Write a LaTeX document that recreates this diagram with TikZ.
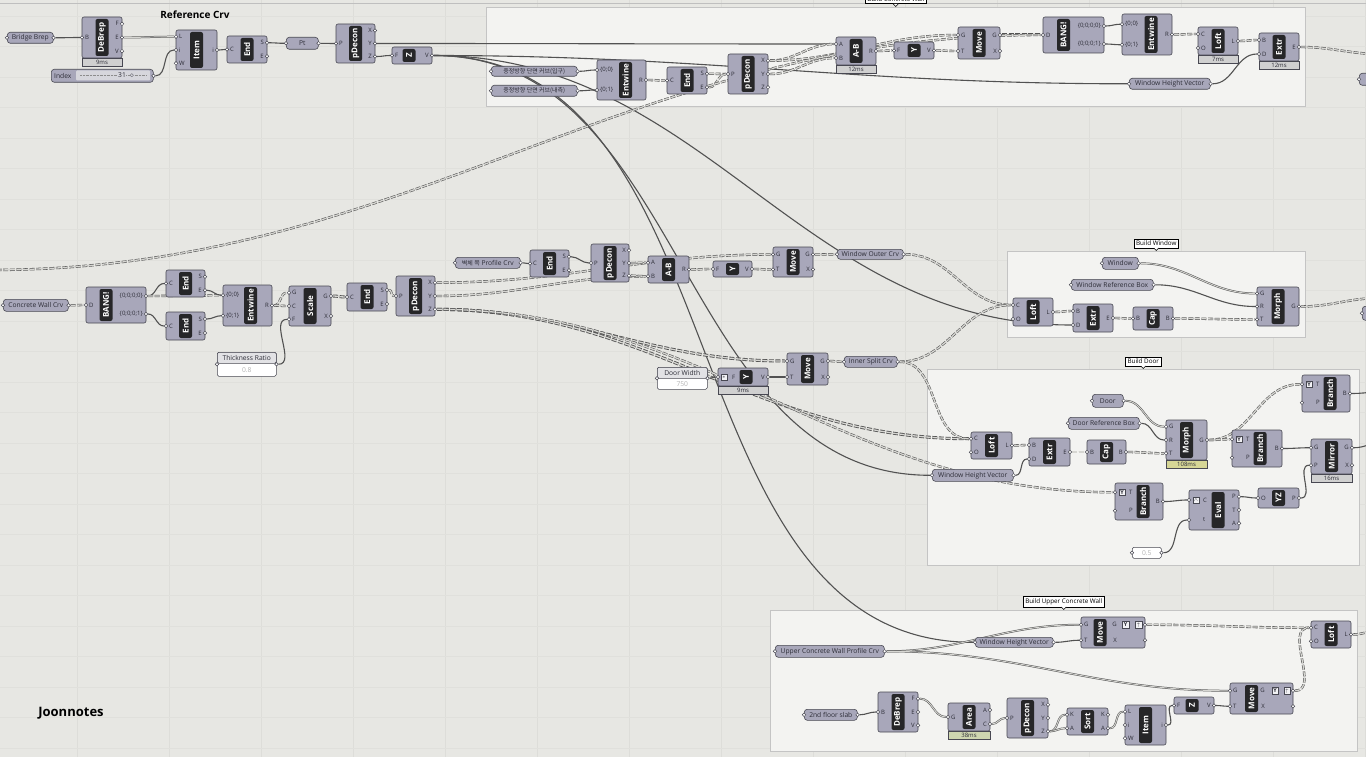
\documentclass[tikz,border=0pt]{standalone}
\usepackage{fontspec}
\setmainfont{Open Sans}
\newfontfamily\kr{Noto Sans CJK KR}
\usetikzlibrary{calc}

\definecolor{canvas}{RGB}{231,231,227}
\definecolor{gridc}{RGB}{221,221,217}
\definecolor{grpfill}{RGB}{243,243,241}
\definecolor{grpline}{RGB}{196,196,196}
\definecolor{compfill}{RGB}{168,167,186}
\definecolor{compline}{RGB}{72,72,82}
\definecolor{corefill}{RGB}{38,38,40}
\definecolor{wirec}{RGB}{82,82,82}
\definecolor{wirein}{RGB}{214,214,210}
\definecolor{timefill}{RGB}{208,208,208}
\definecolor{timeyel}{RGB}{214,214,150}
\definecolor{timegrn}{RGB}{206,214,176}
\definecolor{lblc}{RGB}{45,45,55}
\definecolor{paneltop}{RGB}{226,226,229}
\definecolor{trackc}{RGB}{214,214,220}

\pgfdeclarelayer{bg}
\pgfdeclarelayer{wires}
\pgfsetlayers{bg,wires,main}

% port padding (changed locally for icons)
\def\ghipad{3}
\def\ghopad{3}

% component: [core shift]{name}{x1}{y1}{x2}{y2}{label}{inputs}{outputs}
\newcommand\ghcomp[9][0]{%
  \pgfmathsetmacro\ghw{#5-#3}%
  \pgfmathsetmacro\ghh{#6-#4}%
  \pgfmathsetmacro\ghc{#6-#4-4}%
  \node[ghbox, minimum width=\ghw pt, minimum height=\ghh pt, anchor=north west] (#2) at (#3,#4) {};
  \node[ghcore, minimum width=\ghc pt, rotate=90] (#2-core) at ([xshift=#1pt]#2.center) {#7};
  \foreach \p [count=\k] in {#8} {\xdef\ghn{\k}}%
  \foreach \p [count=\k] in {#8} {%
    \pgfmathsetmacro\py{#4+(#6-#4)*(\k-0.5)/\ghn}%
    \node[portlbl, anchor=west] (#2-il\k) at (#3+\ghipad,\py) {\p};
    \node[port] (#2-i\k) at (#3,\py) {};
  }%
  \foreach \p [count=\k] in {#9} {\xdef\ghn{\k}}%
  \foreach \p [count=\k] in {#9} {%
    \pgfmathsetmacro\py{#4+(#6-#4)*(\k-0.5)/\ghn}%
    \node[portlbl, anchor=east] (#2-ol\k) at (#5-\ghopad,\py) {\p};
    \node[port] (#2-o\k) at (#5,\py) {};
  }%
}

% parameter: {name}{x1}{y1}{x2}{y2}{text}
\newcommand\ghpar[6]{%
  \pgfmathsetmacro\ghw{#4-#2}%
  \pgfmathsetmacro\ghh{#5-#3}%
  \node[parbox, minimum width=\ghw pt, minimum height=\ghh pt, anchor=north west] (#1) at (#2,#3) {#6};
  \node[port] (#1-i1) at (#1.west) {};
  \node[port] (#1-o1) at (#1.east) {};
}

% panel with title: {name}{x1}{y1}{x2}{y2}{title}{value}
\newcommand\ghpanel[7]{%
  \pgfmathsetmacro\ghw{#4-#2}%
  \pgfmathsetmacro\ghh{#5-#3}%
  \node[valbox, minimum width=\ghw pt, minimum height=\ghh pt, anchor=north west] (#1) at (#2,#3) {};
  \node[valbox, fill=paneltop, text=lblc, minimum width=\ghw pt, minimum height=11pt, anchor=north west] (#1-title) at (#2,#3) {#6};
  \node[inner sep=0, text=black!30] (#1-val) at ($(#1.south)!0.5!(#1-title.south)$) {#7};
  \node[port] (#1-i1) at (#1.west) {};
  \node[port] (#1-o1) at (#1.east) {};
}

% timing box under a component
\newcommand\ghtime[3][timefill]{%
  \path let \p1=(#2.south west), \p2=(#2.south east) in
    node[ghtime, fill=#1, minimum width=\x2-\x1, anchor=north] (#2-time) at (#2.south) {#3};
}

% group with label
\newcommand\ghgroup[6]{%
  \pgfmathsetmacro\ghw{#4-#2}%
  \pgfmathsetmacro\ghh{#5-#3}%
  \node[grp, minimum width=\ghw pt, minimum height=\ghh pt, anchor=north west] (#1) at (#2,#3) {};
  \node[grplbl, anchor=south] (#1-lbl) at ([yshift=3pt]#1.north) {#6};
  \fill[white] ([xshift=-2.5pt]#1-lbl.south) -- ([yshift=-2.5pt]#1-lbl.south) -- ([xshift=2.5pt]#1-lbl.south) -- cycle;
  \draw[line width=0.5pt] ([xshift=-2.5pt]#1-lbl.south) -- ([yshift=-2.5pt]#1-lbl.south) -- ([xshift=2.5pt]#1-lbl.south);
}

\begin{document}
\begin{tikzpicture}[
  x=1pt, y=-1pt,
  every node/.style={font=\fontsize{6.7}{8}\selectfont, text=lblc},
  ghbox/.style={draw=compline, fill=compfill, rounded corners=2pt, line width=0.6pt, inner sep=0, outer sep=0},
  ghcore/.style={fill=corefill, rounded corners=2pt, minimum height=13pt, inner sep=0, text=white, font=\bfseries\fontsize{8}{9}\selectfont},
  parbox/.style={draw=compline, fill=compfill, rounded corners=3pt, line width=0.6pt, inner sep=0},
  valbox/.style={draw=compline, fill=white, rounded corners=1.5pt, line width=0.5pt, inner sep=0, text=black!30},
  port/.style={circle, draw=compline, fill=white, line width=0.5pt, inner sep=0, minimum size=3.6pt},
  portlbl/.style={inner sep=0, font=\fontsize{6}{7}\selectfont, text=lblc},
  ghtime/.style={draw=compline, line width=0.5pt, inner sep=0, minimum height=8pt, font=\fontsize{6}{7}\selectfont},
  ghicon/.style={draw=compline, fill=white!85!compfill, line width=0.4pt, inner sep=0, minimum size=6.5pt, font=\bfseries\fontsize{5.5}{6}\selectfont},
  grp/.style={draw=grpline, fill=grpfill, line width=0.6pt, inner sep=0},
  grplbl/.style={draw=black, fill=white, line width=0.5pt, inner sep=2pt, font=\fontsize{6.3}{7}\selectfont, text=black},
  wire/.style={draw=wirec, line width=1.1pt, out=0, in=180},
  wlist/.style={draw=wirec, line width=0.5pt, double=wirein, double distance=0.9pt, out=0, in=180},
  wtree/.style={draw=wirec, line width=0.55pt, double=wirein, double distance=1.3pt, dash pattern=on 5pt off 1.6pt, out=0, in=180},
  wtreeb/.style={wtree, line width=0.85pt}]
\useasboundingbox (0,0) rectangle (1366,757);

\begin{pgfonlayer}{bg}
% canvas and grid
\fill[canvas] (0,0) rectangle (1366,757);
\foreach \gx in {77,169,...,1365} \draw[gridc, line width=0.5pt] (\gx,0) -- (\gx,757);
\foreach \gy in {16,46.5,...,757} \draw[gridc!70!canvas, line width=0.4pt] (0,\gy) -- (1366,\gy);
\draw[black!25, line width=0.8pt] (0,3) -- (1366,3);
% groups
\ghgroup{gwall}{486}{7}{1305}{106}{Build Concrete Wall}
\ghgroup{gwin}{1007}{251}{1305}{337}{Build Window}
\ghgroup{gdoor}{927}{369}{1359}{565}{Build Door}
\ghgroup{gupper}{770}{610}{1357}{751}{Build Upper Concrete Wall}
\end{pgfonlayer}

% reference curve
\node[font=\bfseries\fontsize{10}{12}\selectfont, text=black] (refcrv) at (195,15) {Reference Crv};
\ghpar{brep}{7}{32}{53}{43}{Bridge Brep}
\ghcomp{debrep}{82}{17}{122}{58}{DeBrep}{B}{F,E,V}
\ghtime{debrep}{9ms}
\node[parbox, minimum width=102pt, minimum height=13pt, anchor=north west] (index) at (51,69) {};
\node[fill=trackc, rounded corners=1pt, minimum width=74pt, minimum height=10pt, inner sep=0, anchor=west] (index-track) at (76,75.5) {};
\node[inner sep=0, anchor=west] (index-lbl) at (54,75.5) {Index};
\draw[black!45, densely dotted] (80,75.5) -- (147,75.5);
\node[inner sep=0.5pt, fill=trackc] (index-val) at (122,75.5) {31};
\node[inner sep=0, fill=trackc] (index-knob) at (132,75.5) {$\diamond$};
\node[port] (index-o1) at (index.east) {};
\ghcomp{item}{176}{30}{217}{70}{Item}{L,i,W}{i}
\ghcomp{end1}{227}{36}{267}{63}{End}{C}{S,E}
\ghpar{pt}{286}{37}{318}{49}{Pt}
\ghcomp{pdecon1}{336}{24}{375}{63}{pDecon}{P}{X,Y,Z}
\ghcomp[-3]{zcomp}{392}{47}{432}{64}{Z}{F}{V}

% build concrete wall
\ghpar{kr1}{491}{66}{577}{76}{{\kr\fontsize{6}{7}\selectfont 중정방향 단면 커브(입구)}}
\ghpar{kr2}{491}{85}{577}{96}{{\kr\fontsize{6}{7}\selectfont 중정방향 단면 커브(내측)}}
\ghcomp[4]{entw1}{597}{60}{646}{100}{Entwine}{\{0;0\},\{0;1\}}{R}
\ghcomp{end2}{667}{67}{707}{94}{End}{C}{S,E}
\ghcomp{pdecon2}{728}{54}{768}{94}{pDecon}{P}{X,Y,Z}
\ghcomp{ab1}{836}{37}{876}{65}{A-B}{A,B}{R}
\ghtime{ab1}{12ms}
\ghcomp{ycomp1}{894}{42}{934}{59}{Y}{F}{V}
\ghcomp{move1}{958}{27}{1000}{59}{Move}{G,T}{G,X}
\ghcomp[-10]{bang1}{1043}{17}{1104}{53}{BANG!}{D}{\{0;0;0;0\},\{0;0;0;1\}}
\ghcomp[4]{entw2}{1122}{14}{1172}{55}{Entwine}{\{0;0\},\{0;1\}}{R}
\ghcomp{loft1}{1198}{27}{1238}{55}{Loft}{C,O}{L}
\ghtime{loft1}{7ms}
\ghcomp{extr1}{1259}{33}{1299}{61}{Extr}{B,D}{E}
\ghtime{extr1}{12ms}
\ghpar{whv1}{1129}{78}{1210}{89}{Window Height Vector}
\ghpar{edge1}{1359}{73}{1400}{85}{}
\ghpar{edge2}{1362}{306}{1400}{320}{}

% concrete wall curve
\ghpar{cwc}{3}{299}{68}{311}{Concrete Wall Crv}
\ghcomp[-10]{bang2}{86}{287}{146}{323}{BANG!}{D}{\{0;0;0;0\},\{0;0;0;1\}}
\ghcomp{end3}{166}{270}{205}{297}{End}{C}{S,E}
\ghcomp{end4}{166}{312}{205}{340}{End}{C}{S,E}
\ghcomp[3]{entw3}{223}{285}{272}{326}{Entwine}{\{0;0\},\{0;1\}}{R}
\ghcomp{scale}{289}{286}{331}{326}{Scale}{G,C,F}{G,X}
\ghpanel{thick}{217}{352}{276}{376}{Thickness Ratio}{0.8}
\ghcomp{end5}{347}{283}{387}{311}{End}{C}{S,E}
\ghcomp{pdecon3}{396}{276}{435}{316}{pDecon}{P}{X,Y,Z}

% profile curves
\ghpar{prof}{455}{257}{520}{268}{{\kr\fontsize{6}{7}\selectfont 벽체 쪽} Profile Crv}
\ghcomp{end6}{530}{250}{569}{277}{End}{C}{S,E}
\ghcomp{pdecon4}{591}{244}{629}{282}{pDecon}{P}{X,Y,Z}
\ghcomp{ab2}{648}{256}{689}{283}{A-B}{A,B}{R}
\ghcomp{ycomp2}{713}{261}{752}{277}{Y}{F}{V}
\ghcomp{move2}{773}{247}{813}{277}{Move}{G,T}{G,X}
\ghpar{woc}{837}{249}{903}{259}{Window Outer Crv}
\ghpanel{dw}{657}{367}{707}{389}{Door Width}{750}
{\def\ghipad{14}
\ghcomp[3]{ycomp3}{718}{368}{768}{386}{Y}{F}{V}}
\node[ghicon] (ycomp3-icon) at (724,377) {$\ast$};
\ghtime{ycomp3}{9ms}
\ghcomp{move3}{787}{353}{828}{385}{Move}{G,T}{G,X}
\ghpar{isc}{844}{356}{897}{367}{Inner Split Crv}

% build window
\ghpar{win}{1102}{257}{1138}{269}{Window}
\ghpar{wrb}{1071}{279}{1153}{290}{Window Reference Box}
\ghcomp{loft2}{1013}{298}{1053}{326}{Loft}{C,O}{L}
\ghcomp{extr2}{1073}{304}{1113}{332}{Extr}{B,D}{E}
\ghcomp{cap1}{1133}{307}{1173}{330}{Cap}{B}{B}
\ghcomp{morph1}{1257}{287}{1299}{326}{Morph}{G,R,T}{G}

% build door
\ghpar{door}{1092}{394}{1123}{407}{Door}
\ghpar{drb}{1068}{417}{1139}{429}{Door Reference Box}
\ghcomp{loft3}{971}{432}{1012}{459}{Loft}{C,O}{L}
\ghcomp{extr3}{1029}{438}{1070}{466}{Extr}{B,D}{E}
\ghcomp{cap2}{1087}{440}{1126}{464}{Cap}{B}{B}
\ghcomp{morph2}{1166}{420}{1207}{460}{Morph}{G,R,T}{G}
\ghtime[timeyel]{morph2}{108ms}
{\def\ghipad{14}
\ghcomp[4]{branch1}{1302}{375}{1350}{412}{Branch}{T,P}{B}
\ghcomp[3]{branch2}{1232}{430}{1282}{467}{Branch}{T,P}{B}
\ghcomp[4]{branch3}{1115}{483}{1163}{520}{Branch}{T,P}{B}
\ghcomp[4]{eval}{1189}{490}{1239}{530}{Eval}{C,t}{P,T,A}}
\node[ghicon] (branch1-icon) at (1309,384.25) {Y};
\node[ghicon] (branch2-icon) at (1239,439.25) {Y};
\node[ghicon] (branch3-icon) at (1122,492.25) {Y};
\node[ghicon] (eval-icon) at (1196,500) {$\wedge$};
\ghcomp{mirror}{1311}{439}{1352}{474}{Mirror}{G,P}{G,X}
\ghtime{mirror}{16ms}
\ghpar{whv2}{932}{469}{1013}{481}{Window Height Vector}
\ghcomp{yz}{1258}{488}{1299}{508}{YZ}{O}{P}
\node[valbox, minimum width=29pt, minimum height=11pt, anchor=north west] (half) at (1132,547) {0.5};
\node[port] (half-i1) at (half.west) {};
\node[port] (half-o1) at (half.east) {};

% build upper concrete wall
\ghpar{ucw}{775}{645}{884}{657}{Upper Concrete Wall Profile Crv}
\ghpar{whv3}{975}{637}{1053}{647}{Window Height Vector}
{\def\ghopad{28}
\ghcomp[-13]{move4}{1081}{617}{1145}{648}{Move}{G,T}{G,X}
\ghcomp[-10]{move5}{1230}{683}{1293}{714}{Move}{G,T}{G,X}}
\node[ghicon] (move4-icon1) at (1125.5,624.75) {Y};
\node[ghicon] (move4-icon2) at (1138.5,624.75) {$\uparrow$};
\node[ghicon] (move5-icon1) at (1275,690.75) {Y};
\node[ghicon] (move5-icon2) at (1287,690.75) {$\uparrow$};
\ghcomp{loft4}{1311}{621}{1351}{648}{Loft}{C,O}{L}
\ghpar{slab}{804}{709}{857}{720}{2nd floor slab}
\ghcomp{debrep2}{878}{692}{918}{732}{DeBrep}{B}{F,E,V}
\ghcomp{area}{948}{703}{990}{731}{Area}{G}{A,C}
\ghtime[timegrn]{area}{38ms}
\ghcomp{pdecon5}{1007}{698}{1048}{738}{pDecon}{P}{X,Y,Z}
\ghcomp{sort}{1067}{708}{1108}{735}{Sort}{K,A}{K,A}
\ghcomp{item2}{1125}{705}{1166}{745}{Item}{L,i,W}{i}
\ghcomp[-2]{zcomp2}{1174}{697}{1214}{714}{Z}{F}{V}

\node[font=\bfseries\fontsize{13}{15}\selectfont, text=black] (joon) at (71,713) {Joonnotes};

% free wire ends
\coordinate (offwall) at (1380,54);
\coordinate (offwin) at (1380,298);
\coordinate (offbr) at (1380,392);
\coordinate (offmir) at (1380,443);
\coordinate (offup) at (1380,630);
\coordinate (farleft) at (-10,270);

\begin{pgfonlayer}{wires}
% reference curve
\draw[wire] (brep-o1) to (debrep-i1);
\draw[wlist] (debrep-o2) to (item-i1);
\draw[wire] (index-o1) to (item-i2);
\draw[wire] (item-o1) to (end1-i1);
\draw[wire] (end1-o1) to (pt-i1);
\draw[wire] (pt-o1) to (pdecon1-i1);
\draw[wire] (pdecon1-o3) to (zcomp-i1);
\draw[wire] (pdecon1-o2) to (ab1-i1);
\foreach \t in {whv1-i1,whv2-i1,whv3-i1,extr2-i2} \draw[wire] (zcomp-o1) to (\t);
% concrete wall
\draw[wire] (kr1-o1) to (entw1-i1);
\draw[wire] (kr2-o1) to (entw1-i2);
\draw[wtree] (entw1-o1) to (end2-i1);
\draw[wtree] (end2-o1) to (pdecon2-i1);
\draw[wtree] (end2-o2) to (pdecon2-i1);
\draw[wtree] (pdecon2-o1) to (ab1-i1);
\draw[wtree] (pdecon2-o2) to (ab1-i2);
\draw[wtree] (pdecon2-o1) to (move1-i1);
\draw[wtree] (ab1-o1) to (ycomp1-i1);
\draw[wtree] (ycomp1-o1) to (move1-i2);
\draw[wtreeb] (move1-o1) to (bang1-i1);
\draw[wtree] (farleft) .. controls +(420,0) and +(-420,0) .. (bang1-i1);
\draw[wire] (bang1-o1) to (entw2-i1);
\draw[wire] (bang1-o2) to (entw2-i2);
\draw[wtree] (entw2-o1) to (loft1-i1);
\draw[wtree] (loft1-o1) to (extr1-i1);
\draw[wire] (whv1-o1) to (extr1-i2);
\draw[wtree] (extr1-o1) to (offwall);
% wall curve
\draw[wtree] (cwc-o1) to (bang2-i1);
\draw[wire] (bang2-o1) to (end3-i1);
\draw[wire] (bang2-o2) to (end4-i1);
\draw[wtree] (bang2-o1) to (entw3-i1);
\draw[wire] (end3-o2) to (entw3-i1);
\draw[wire] (end4-o1) to (entw3-i2);
\draw[wtree] (entw3-o1) to (scale-i1);
\draw[wtree] (entw3-o1) to (scale-i2);
\draw[wire] (thick-o1) to (scale-i3);
\draw[wtreeb] (scale-o1) to (end5-i1);
\draw[wtree] (end5-o1) to (pdecon3-i1);
\draw[wtree] (pdecon3-o1) to (move2-i1);
\draw[wtree] (pdecon3-o2) to (ab2-i2);
\draw[wtreeb] (pdecon3-o3) to (move3-i1);
\draw[wtreeb] (pdecon3-o3) to (loft3-i1);
\draw[wtree] (pdecon3-o3) to (branch3-i1);
% profile curves
\draw[wire] (prof-o1) to (end6-i1);
\draw[wire] (end6-o1) to (pdecon4-i1);
\draw[wtree] (pdecon4-o2) to (ab2-i1);
\draw[wtree] (pdecon4-o3) to (ab2-i2);
\draw[wtree] (ab2-o1) to (ycomp2-i1);
\draw[wtree] (ycomp2-o1) to (move2-i2);
\draw[wtree] (move2-o1) to (woc-i1);
\draw[wtree] (woc-o1) to (loft2-i1);
\draw[wire] (dw-o1) to (ycomp3-i1);
\draw[wire] (ycomp3-o1) to (move3-i2);
\draw[wtree] (move3-o1) to (isc-i1);
\draw[wtree] (isc-o1) to (loft2-i1);
\draw[wtree] (isc-o1) to (loft3-i1);
% window
\draw[wtree] (loft2-o1) to (extr2-i1);
\draw[wtree] (extr2-o1) to (cap1-i1);
\draw[wtree] (cap1-o1) to (morph1-i3);
\draw[wlist] (win-o1) to (morph1-i1);
\draw[wire] (wrb-o1) to (morph1-i2);
\draw[wtree] (morph1-o1) to (offwin);
% door
\draw[wlist] (door-o1) to (morph2-i1);
\draw[wire] (drb-o1) to (morph2-i2);
\draw[wtree] (loft3-o1) to (extr3-i1);
\draw[wire] (whv2-o1) to (extr3-i2);
\draw[wtree] (extr3-o1) to (cap2-i1);
\draw[wtree] (cap2-o1) to (morph2-i3);
\draw[wtree] (morph2-o1) to (branch1-i1);
\draw[wtree] (morph2-o1) to (branch2-i1);
\draw[wire] (branch2-o1) to (mirror-i1);
\draw[wire] (branch1-o1) to (offbr);
\draw[wire] (mirror-o1) to (offmir);
\draw[wire] (branch3-o1) to (eval-i1);
\draw[wire] (half-o1) to (eval-i2);
\draw[wire] (eval-o1) to (yz-i1);
\draw[wire] (yz-o1) to (mirror-i2);
% upper wall
\draw[wlist] (ucw-o1) to (move4-i1);
\draw[wlist] (ucw-o1) to (move5-i1);
\draw[wire] (whv3-o1) to (move4-i2);
\draw[wtree] (move4-o1) to (loft4-i1);
\draw[wtree] (move5-o1) to (loft4-i1);
\draw[wtree] (loft4-o1) to (offup);
\draw[wire] (slab-o1) to (debrep2-i1);
\draw[wlist] (debrep2-o1) to (area-i1);
\draw[wlist] (area-o2) to (pdecon5-i1);
\draw[wlist] (pdecon5-o3) to (sort-i1);
\draw[wlist] (pdecon5-o3) to (sort-i2);
\draw[wlist] (sort-o2) to (item2-i1);
\draw[wire] (item2-o1) to (zcomp2-i1);
\draw[wire] (zcomp2-o1) to (move5-i2);
\end{pgfonlayer}
\end{tikzpicture}
\end{document}
